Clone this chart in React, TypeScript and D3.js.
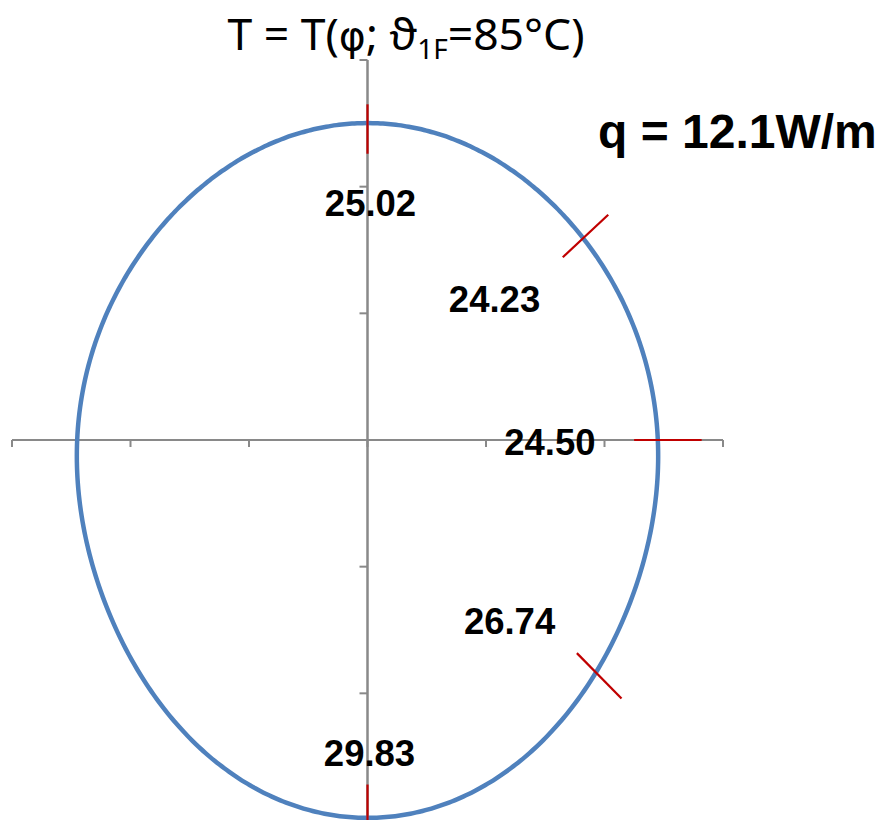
import React from "react";
import * as d3 from "d3";

// Temperature around the pipe circumference, φ measured clockwise from the top (degrees)
const angles = [0, 45, 90, 135, 180];
const temps = [25.02, 24.23, 24.5, 26.74, 29.83];

// Red angle markers: direction (deg) and radial extent in axis units
const markAngles = [0, 48.8, 90, 133.6, 180];
const markInner = [22.6, 21.9, 22.5, 24.4, 27.2];
const markOuter = [26.5, 27.0, 28.2, 29.6, 32.0];

// Axis extents and tick values
const axisMin = -30;
const axisMax = 30;
const tickValues = [-30, -20, -10, 0, 10, 20, 30];

const titleHead = "T = T(";
const titlePhi = "φ";
const titleMid = "; ϑ";
const titleSub = "1F";
const titleTail = "=85°C)";
const heatFlux = "q = 12.1W/m";

// Label offsets (px) from each point, for layout only
const labelDx = [3, -76, -108, -82, 2];
const labelDy = [93, 89, 15, -46, -52];

const W = 883;
const H = 820;

// Smooth periodic profile r(φ) through the measured angles (symmetric about φ = 0),
// using a cosine series that passes exactly through every measured value.
function cosineProfile(phis: number[], values: number[]) {
  const n = phis.length - 1; // samples at k·180/n
  const coef = d3.range(n + 1).map((k) => {
    let s = values[0] + (k % 2 === 0 ? 1 : -1) * values[n];
    for (let j = 1; j < n; j++) s += 2 * values[j] * Math.cos((Math.PI * j * k) / n);
    return ((k === 0 || k === n ? 0.5 : 1) * s) / n;
  });
  return (phiDeg: number) => {
    const p = (phiDeg * Math.PI) / 180;
    return coef.reduce((acc, c, k) => acc + c * Math.cos(k * p), 0);
  };
}

export default function App() {
  const x = d3.scaleLinear().domain([axisMin, axisMax]).range([12, 723]);
  const y = d3.scaleLinear().domain([axisMin, axisMax]).range([820, 60]);

  const rad = (deg: number) => (deg * Math.PI) / 180;
  const polar = (phi: number, r: number): [number, number] => [
    r * Math.sin(rad(phi)),
    r * Math.cos(rad(phi)),
  ];

  const profile = cosineProfile(angles, temps);
  const ring: [number, number][] = d3.range(0, 360, 1).map((phi) => polar(phi, profile(phi)));

  const line = d3
    .line<[number, number]>()
    .x((d) => x(d[0]))
    .y((d) => y(d[1]))
    .curve(d3.curveCatmullRomClosed);

  const points = angles.map((a, i) => polar(a, temps[i]));
  const axisColor = "#898989";

  return (
    <svg
      width={W}
      height={H}
      style={{ position: "absolute", left: 0, top: 0, background: "#fff" }}
    >
      {/* horizontal axis */}
      <line x1={x(axisMin)} x2={x(axisMax)} y1={y(0)} y2={y(0)} stroke={axisColor} strokeWidth={2} />
      {tickValues.map((t) => (
        <line key={"xt" + t} x1={x(t)} x2={x(t)} y1={y(0)} y2={y(0) + 7} stroke={axisColor} strokeWidth={2} />
      ))}
      {/* vertical axis */}
      <line x1={x(0)} x2={x(0)} y1={y(axisMax)} y2={y(axisMin)} stroke={axisColor} strokeWidth={2.5} />
      {tickValues.map((t) => (
        <line key={"yt" + t} x1={x(0) - 8} x2={x(0)} y1={y(t)} y2={y(t)} stroke={axisColor} strokeWidth={2} />
      ))}

      {/* temperature profile */}
      <path d={line(ring) ?? ""} fill="none" stroke="#4F81BD" strokeWidth={4.5} />

      {/* angle markers */}
      {markAngles.map((a, i) => {
        const [x0, y0] = polar(a, markInner[i]);
        const [x1, y1] = polar(a, markOuter[i]);
        return (
          <line key={"m" + i} x1={x(x0)} y1={y(y0)} x2={x(x1)} y2={y(y1)} stroke="#C00000" strokeWidth={2.2} />
        );
      })}

      {/* value labels */}
      {points.map((p, i) => (
        <text
          key={"l" + i}
          x={x(p[0]) + labelDx[i]}
          y={y(p[1]) + labelDy[i]}
          textAnchor="middle"
          fontFamily="'Liberation Sans', Arial, sans-serif"
          fontWeight="bold"
          fontSize={36.5}
          fill="#000"
        >
          {temps[i].toFixed(2)}
        </text>
      ))}

      {/* title */}
      <text x={406} y={50} textAnchor="middle" fontFamily="'Noto Sans', sans-serif" fontSize={44.5} fill="#000">
        {titleHead}
        <tspan fontFamily="'DejaVu Sans', sans-serif" fontSize={41}>{titlePhi}</tspan>
        {titleMid}
        <tspan fontSize={28} dy={9}>{titleSub}</tspan>
        <tspan dy={-9}>{titleTail}</tspan>
      </text>

      <text x={598} y={148} fontFamily="'Liberation Sans', Arial, sans-serif" fontWeight="bold" fontSize={48} fill="#000">
        {heatFlux}
      </text>
    </svg>
  );
}
